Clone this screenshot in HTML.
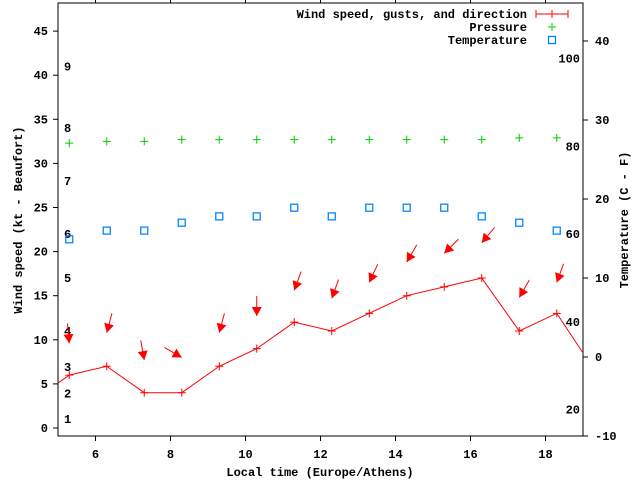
<!DOCTYPE html>
<html><head><meta charset="utf-8"><style>
body{margin:0;background:#fff}
svg text{font-family:"Liberation Mono","DejaVu Sans Mono",monospace;font-size:12px;font-weight:bold;fill:#000}
</style></head><body>
<svg id="chart" width="640" height="480" viewBox="0 0 640 480" xmlns="http://www.w3.org/2000/svg"></svg>
<script>
const hours=[5.3,6.3,7.3,8.3,9.3,10.3,11.3,12.3,13.3,14.3,15.3,16.3,17.3,18.3];
const wind=[6,7,4,4,7,9,12,11,13,15,16,17,11,13];
const windEdge=[[4.3,3.0],[19.3,6.6]];
const gust=[9.6,10.8,7.7,8.0,10.8,12.7,15.6,14.7,16.5,18.8,19.8,21,14.8,16.5];
const dir=[355,15,350,300,15,0,20,20,25,30,45,40,30,20];
const pressure=[32.3,32.5,32.5,32.7,32.7,32.7,32.7,32.7,32.7,32.7,32.7,32.7,32.9,32.9];
const tempC=[14.9,16,16,17,17.8,17.8,18.9,17.8,18.9,18.9,18.9,17.8,17,16];
const xTicks=[6,8,10,12,14,16,18];
const yTicks=[0,5,10,15,20,25,30,35,40,45];
const y2Ticks=[-10,0,10,20,30,40];
const fTicks=[20,40,60,80,100];
const bft=[[1,1],[2,3.9],[3,6.9],[4,11],[5,17],[6,22],[7,28],[8,34],[9,41]];
const L=58,R=583,T=3,B=436;
const xs=h=>L+(h-5)/14*(R-L);
const ys=v=>428-v*8.82;
const ys2=c=>357-c*7.9;
const svg=document.getElementById('chart');
const NS='http://www.w3.org/2000/svg';
function mk(tag,at,parent,txt){const e=document.createElementNS(NS,tag);for(const k in at)e.setAttribute(k,at[k]);if(txt!==undefined)e.textContent=txt;(parent||svg).appendChild(e);return e;}
const defs=mk('defs',{});const cp=mk('clipPath',{id:'pc'},defs);mk('rect',{x:L,y:T,width:R-L,height:B-T},cp);
// axes
const ax=mk('g',{});
mk('rect',{x:L,y:T,width:R-L,height:B-T,fill:'none',stroke:'#000','stroke-width':1},ax);
xTicks.forEach(t=>{const x=xs(t);mk('line',{x1:x,y1:B,x2:x,y2:B+5,stroke:'#000'},ax);mk('line',{x1:x,y1:T,x2:x,y2:T-5,stroke:'#000'},ax);
const tx=mk('text',{x:x,y:B+22,'text-anchor':'middle'},ax,String(t));});
yTicks.forEach(t=>{const y=ys(t);mk('line',{x1:L-5,y1:y,x2:L,y2:y,stroke:'#000'},ax);
const tx=mk('text',{x:L-10,y:y+4,'text-anchor':'end'},ax,String(t));});
y2Ticks.forEach(t=>{const y=ys2(t);mk('line',{x1:R,y1:y,x2:R+5,y2:y,stroke:'#000'},ax);
const tx=mk('text',{x:R+12,y:y+4},ax,String(t));});
fTicks.forEach(f=>{const c=(f-32)*5/9;const tx=mk('text',{x:580,y:ys2(c)+4,'text-anchor':'end'},ax,String(f));});
bft.forEach(b=>{const tx=mk('text',{x:64,y:ys(b[1])+4},ax,String(b[0]));});
let t1=mk('text',{x:320,y:476,'text-anchor':'middle'},ax,'Local time (Europe/Athens)');
let t2=mk('text',{x:22,y:220,'text-anchor':'middle',transform:'rotate(-90 22 220)'},ax,'Wind speed (kt - Beaufort)');
let t3=mk('text',{x:628,y:220,'text-anchor':'middle',transform:'rotate(-90 628 220)'},ax,'Temperature (C - F)');
// series
const g=mk('g',{'clip-path':'url(#pc)'});
const pts=[windEdge[0]].concat(hours.map((h,i)=>[h,wind[i]])).concat([windEdge[1]]);
const ln=mk('polyline',{points:pts.map(p=>xs(p[0])+','+ys(p[1])).join(' '),fill:'none',stroke:'#f00','stroke-width':1},g);

hours.forEach((h,i)=>{const x=xs(h),y=ys(wind[i]);
const p=mk('path',{d:`M${x-4},${y}H${x+4}M${x},${y-4}V${y+4}`,stroke:'#f00'},g);
// gust arrow: from direction, pointing downwind
const a=dir[i]*Math.PI/180;const hx=xs(h),hy=ys(gust[i]);const tx=hx+Math.sin(a)*20,ty=hy-Math.cos(a)*20;
const ux=(hx-tx)/20,uy=(hy-ty)/20;const bx=hx-ux*9,by=hy-uy*9;
const ar=mk('g',{},g);
mk('line',{x1:tx,y1:ty,x2:hx,y2:hy,stroke:'#f00'},ar);
mk('polygon',{points:`${hx},${hy} ${bx-uy*5},${by+ux*5} ${bx+uy*5},${by-ux*5}`,fill:'#f00'},ar);
const pp=mk('path',{d:`M${x-4},${ys(pressure[i])}H${x+4}M${x},${ys(pressure[i])-4}V${ys(pressure[i])+4}`,stroke:'#0c0'},g);
const sq=mk('rect',{x:x-3.5,y:ys2(tempC[i])-3.5,width:7,height:7,fill:'none',stroke:'#08f','stroke-width':1.3},g);
});
// legend
const lg=mk('g',{});
const lt=['Wind speed, gusts, and direction','Pressure','Temperature'];
lt.forEach((s,i)=>{const y=[14,27,40][i];const e=mk('text',{x:527,y:y+4,'text-anchor':'end'},lg,s);});
mk('path',{d:'M536,14H568M536,10V18M568,10V18M552,10V18',stroke:'#f00'},lg);
mk('path',{d:'M548,27H556M552,23V31',stroke:'#0c0'},lg);
mk('rect',{x:548.5,y:36.5,width:7,height:7,fill:'none',stroke:'#08f','stroke-width':1.3},lg);
</script>
</body></html>
